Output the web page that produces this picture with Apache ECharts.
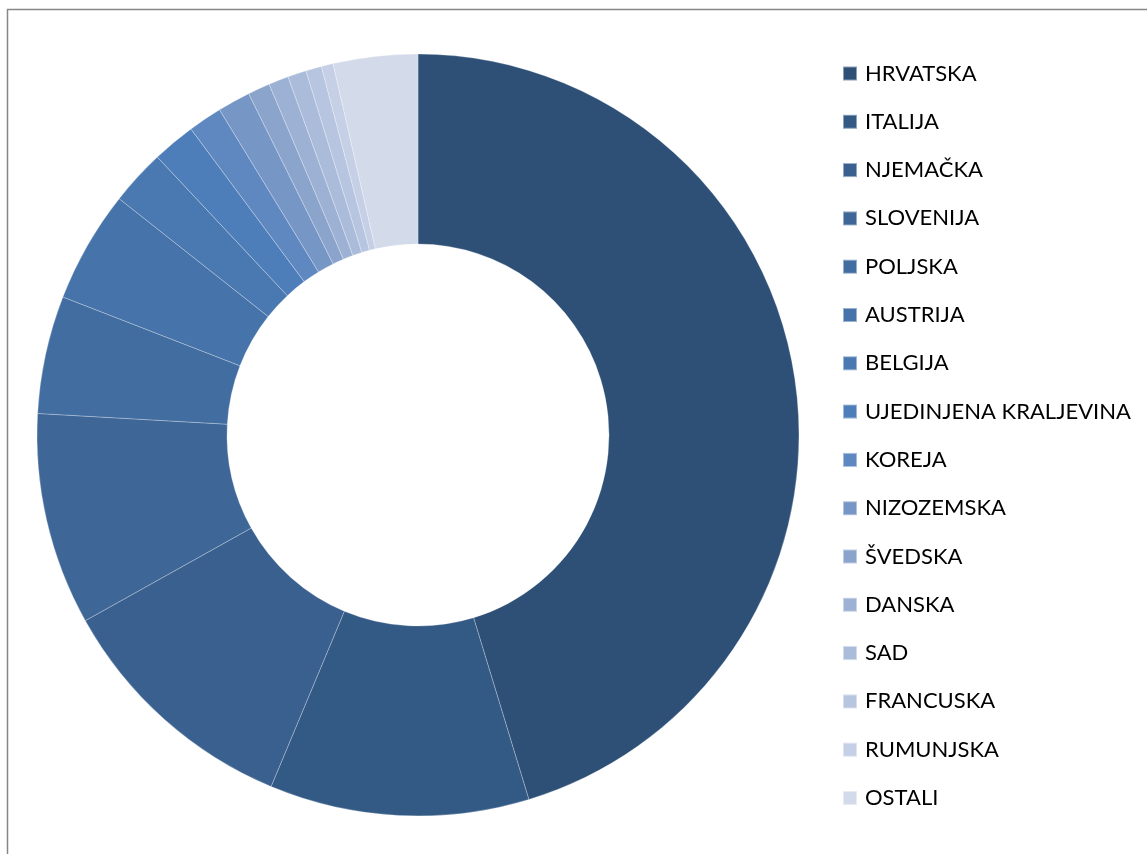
<!DOCTYPE html>
<html lang="hr">
<head>
    <meta charset="UTF-8">
    <title>Donut</title>
    <script src="https://cdn.jsdelivr.net/npm/echarts@6/dist/echarts.min.js"></script>
    <style>
        html, body { margin: 0; padding: 0; background: #fff; }
        #chart { width: 1147px; height: 854px; }
    </style>
</head>
<body>
    <div id="chart"></div>
    <script>
        // zemlje i udjeli (%)
        var countries = ['HRVATSKA', 'ITALIJA', 'NJEMAČKA', 'SLOVENIJA', 'POLJSKA', 'AUSTRIJA', 'BELGIJA',
            'UJEDINJENA KRALJEVINA', 'KOREJA', 'NIZOZEMSKA', 'ŠVEDSKA', 'DANSKA', 'SAD', 'FRANCUSKA',
            'RUMUNJSKA', 'OSTALI'];
        var shares = [45.3, 11.0, 10.6, 9.0, 5.0, 4.75, 2.36, 1.83, 1.44, 1.39, 0.94, 0.85, 0.79, 0.67, 0.5, 3.58];
        var colors = ['#2e5077', '#335a85', '#3a6090', '#3e6697', '#426da0', '#4673a9', '#4a78b0', '#4e7eb9',
            '#5f87c0', '#7696c5', '#8aa4cc', '#9cb1d4', '#abbcdb', '#b7c5e0', '#c5cfe5', '#d3daea'];

        var chart = echarts.init(document.getElementById('chart'));

        var pieData = countries.map(function (name, i) {
            return { name: name, value: shares[i], itemStyle: { color: colors[i] } };
        });

        var option = {
            animation: false,
            backgroundColor: '#fff',
            graphic: [{
                type: 'rect',
                shape: { x: 7.5, y: 9.5, width: 1200, height: 900 },
                style: { fill: 'none', stroke: '#868686', lineWidth: 1.5 },
                silent: true
            }],
            legend: {
                orient: 'vertical',
                left: 842,
                top: 62.5,
                padding: 0,
                icon: 'rect',
                itemWidth: 14,
                itemHeight: 14,
                itemGap: 26.3,
                textStyle: {
                    fontFamily: 'Lato',
                    fontSize: 22,
                    lineHeight: 22,
                    color: '#000',
                    padding: [0, 0, 0, 3]
                },
                data: countries
            },
            series: [{
                type: 'pie',
                center: [418, 435],
                radius: [191, 381],
                startAngle: 90,
                clockwise: true,
                label: { show: false },
                labelLine: { show: false },
                emphasis: { disabled: true },
                itemStyle: { borderColor: 'rgba(255,255,255,0.45)', borderWidth: 0.6 },
                data: pieData
            }]
        };

        chart.setOption(option);
    </script>
</body>
</html>
